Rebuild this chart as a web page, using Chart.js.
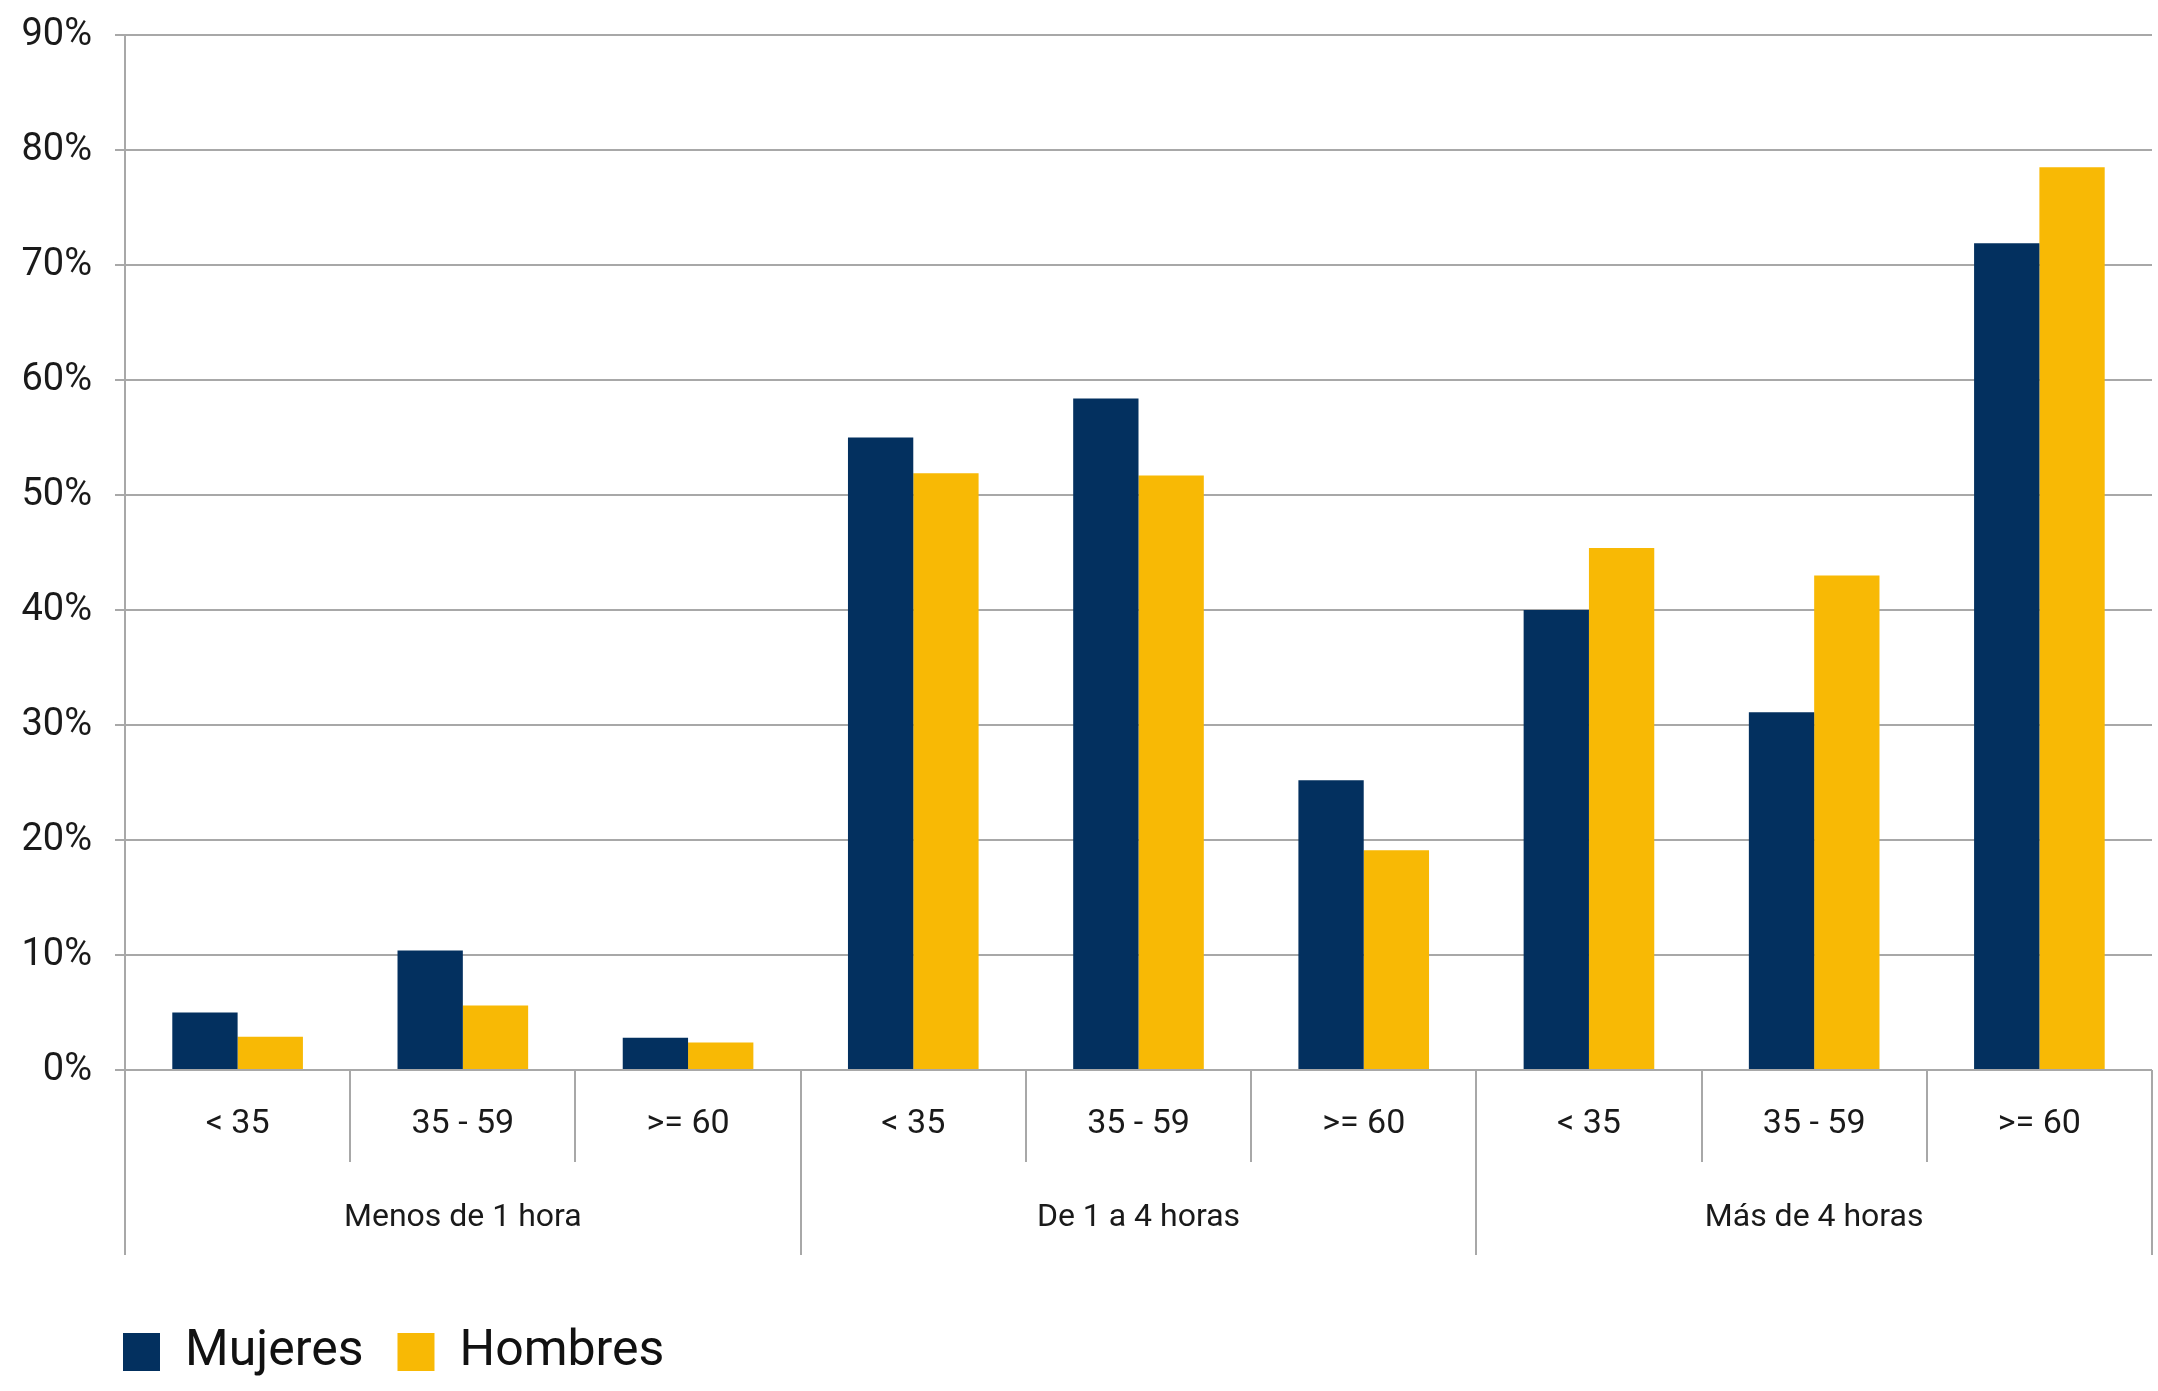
<!DOCTYPE html>
<html>
<head>
<meta charset="utf-8">
<script src="https://cdn.jsdelivr.net/npm/chart.js@4/dist/chart.umd.min.js"></script>
<style>
  html, body { margin: 0; padding: 0; background: #fff; }
  #wrap { width: 2158px; height: 1391px; position: relative; }
</style>
</head>
<body>
<div id="wrap"><canvas id="chart"></canvas></div>
<script>
// age bands (inner axis) and time groups (outer axis)
const ageLabels = ['< 35', '35 - 59', '>= 60', '< 35', '35 - 59', '>= 60', '< 35', '35 - 59', '>= 60'];
const groupLabels = ['Menos de 1 hora', 'De 1 a 4 horas', 'Más de 4 horas'];
const mujeres = [5.0, 10.4, 2.8, 55.0, 58.4, 25.2, 40.0, 31.1, 71.9];
const hombres = [2.9, 5.6, 2.4, 51.9, 51.7, 19.1, 45.4, 43.0, 78.5];
const yTicks = [0, 10, 20, 30, 40, 50, 60, 70, 80, 90];

const NAVY = '#03305F';
const GOLD = '#F8B905';
const GRID = '#A8A8A8';
const FONT = 'Roboto';

// line the legend up under the y axis and nudge it up a bit
const legendShift = {
    id: 'legendShift',
    afterLayout(chart) {
        const lg = chart.legend;
        const w = lg.right - lg.left;
        lg.left = chart.chartArea.left - 36;
        lg.right = lg.left + w;
        lg.top -= 4;
        lg.bottom -= 4;
    }
};

new Chart('chart', {
    type: 'bar',
    data: {
        labels: ageLabels,
        datasets: [{
            label: 'Mujeres',
            data: mujeres,
            backgroundColor: NAVY,
            categoryPercentage: 0.58,
            barPercentage: 1.0
        }, {
            label: 'Hombres',
            data: hombres,
            backgroundColor: GOLD,
            categoryPercentage: 0.58,
            barPercentage: 1.0
        }]
    },
    options: {
        responsive: true,
        maintainAspectRatio: false,
        animation: false,
        layout: {
            padding: { top: 35, right: 6, bottom: 0, left: 0 }
        },
        plugins: {
            tooltip: { enabled: false },
            legend: {
                position: 'bottom',
                align: 'start',
                labels: {
                    boxWidth: 37,
                    boxHeight: 38,
                    padding: 34,
                    color: '#111',
                    font: { family: FONT, size: 50 }
                }
            }
        },
        scales: {
            y: {
                min: 0,
                max: 90,
                afterBuildTicks: (scale) => { scale.ticks = yTicks.map(v => ({ value: v })); },
                afterFit: (scale) => {
                    scale.width = 125;
                    scale.paddingTop = 0;
                    scale.paddingBottom = 0;
                },
                border: { display: true, color: GRID, width: 2 },
                grid: { color: GRID, lineWidth: 2, tickLength: 10 },
                ticks: {
                    padding: 23,
                    color: '#1a1a1a',
                    font: { family: FONT, size: 38 },
                    callback: (v) => v + '%'
                }
            },
            x: {
                position: 'bottom',
                afterFit: (scale) => { scale.height = 92; },
                border: { display: false },
                grid: { offset: true, drawOnChartArea: false, color: GRID, lineWidth: 2, tickLength: 92 },
                ticks: {
                    padding: -58,
                    color: '#1a1a1a',
                    font: { family: FONT, size: 34 }
                }
            },
            x2: {
                type: 'category',
                position: 'bottom',
                labels: groupLabels,
                offset: true,
                afterFit: (scale) => { scale.height = 135; },
                border: { display: false },
                grid: { offset: true, drawOnChartArea: false, color: GRID, lineWidth: 2, tickLength: 93 },
                ticks: {
                    padding: -56,
                    color: '#1a1a1a',
                    font: { family: FONT, size: 32 }
                }
            }
        }
    },
    plugins: [legendShift]
});
</script>
</body>
</html>
